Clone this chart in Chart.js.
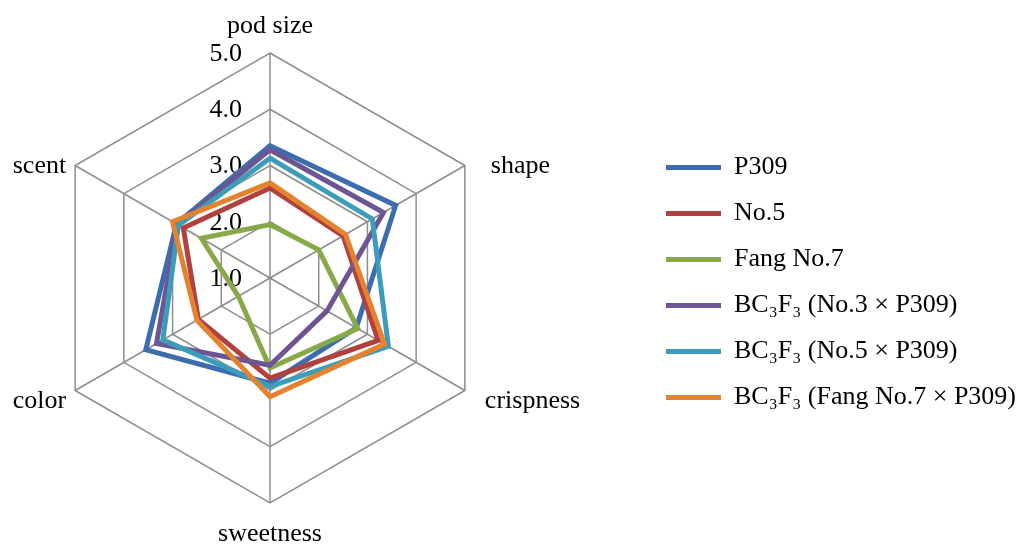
<!DOCTYPE html>
<html>
<head>
<meta charset="utf-8">
<script src="https://cdn.jsdelivr.net/npm/chart.js@4.4.0/dist/chart.umd.min.js"></script>
<style>
  html, body { margin: 0; padding: 0; background: #ffffff; }
  #wrap { width: 1026px; height: 546px; }
</style>
</head>
<body>
<div id="wrap"><canvas id="c" width="1026" height="546"></canvas></div>
<script>
// Sensory traits (radar axes, clockwise from top)
const traits = ['pod size', 'shape', 'crispness', 'sweetness', 'color', 'scent'];
const tickLabels = ['1.0', '2.0', '3.0', '4.0', '5.0'];

// Mean panel scores per line
const seriesNames = [
  'P309',
  'No.5',
  'Fang No.7',
  'BC\u2083F\u2083 (No.3 \u00d7 P309)',
  'BC\u2083F\u2083 (No.5 \u00d7 P309)',
  'BC\u2083F\u2083 (Fang No.7 \u00d7 P309)'
];
const p309       = [3.35, 3.58, 2.77, 2.87, 3.55, 2.92];
const no5        = [2.60, 2.50, 3.22, 2.78, 2.47, 2.78];
const fangNo7    = [1.95, 2.00, 2.80, 2.60, 1.65, 2.41];
const bcNo3xP309 = [3.28, 3.33, 2.17, 2.55, 3.33, 2.90];
const bcNo5xP309 = [3.13, 3.10, 3.43, 2.93, 3.20, 2.88];
const bcFangxP309 = [2.69, 2.55, 3.35, 3.11, 2.50, 3.00];
const seriesValues = [p309, no5, fangNo7, bcNo3xP309, bcNo5xP309, bcFangxP309];
const seriesColors = ['#3d6dae', '#b0413e', '#88a948', '#6d5493', '#3b9db9', '#e4832f'];

const FONT = "'Liberation Serif', 'Times New Roman', serif";
Chart.defaults.font.family = FONT;
Chart.defaults.color = '#000000';

// Category names around the web and value labels beside the vertical axis
const axisText = {
  id: 'axisText',
  beforeDatasetsDraw(chart) {
    const s = chart.scales.r;
    const ctx = chart.ctx;
    const R = s.drawingArea;
    ctx.save();
    ctx.fillStyle = '#000000';
    ctx.font = '26px ' + FONT;

    ctx.textAlign = 'right';
    ctx.textBaseline = 'middle';
    s.ticks.forEach((t) => {
      const y = s.yCenter - s.getDistanceFromCenterForValue(t.value);
      ctx.fillText(t.label, s.xCenter - 28, y + 1);
    });

    ctx.textBaseline = 'alphabetic';
    chart.data.labels.forEach((name, i) => {
      const p = s.getPointPosition(i, R);
      const dx = p.x - s.xCenter;
      const upper = p.y < s.yCenter;
      if (Math.abs(dx) < 1) {
        ctx.textAlign = 'center';
        ctx.fillText(name, p.x, upper ? p.y - 20 : p.y + 38);
      } else if (dx > 0) {
        ctx.textAlign = 'left';
        ctx.fillText(name, p.x + (upper ? 26 : 20), upper ? p.y + 7 : p.y + 17);
      } else {
        ctx.textAlign = 'right';
        ctx.fillText(name, p.x - 9, upper ? p.y + 7 : p.y + 17);
      }
    });
    ctx.restore();
  }
};

const datasets = seriesNames.map((name, i) => ({
  label: name,
  data: seriesValues[i],
  borderColor: seriesColors[i],
  backgroundColor: seriesColors[i],
  borderWidth: 5,
  borderCapStyle: 'round',
  borderJoinStyle: 'miter',
  fill: false,
  tension: 0,
  pointRadius: 0,
  pointHoverRadius: 0,
  order: seriesNames.length - 1 - i
}));

new Chart(document.getElementById('c'), {
  type: 'radar',
  data: { labels: traits, datasets },
  plugins: [axisText],
  options: {
    responsive: false,
    animation: false,
    layout: { padding: { left: 45, top: 53, bottom: 43, right: 0 } },
    elements: { line: { tension: 0 } },
    plugins: {
      tooltip: { enabled: false },
      legend: {
        position: 'right',
        align: 'center',
        // empty title row nudges the key a little lower
        title: { display: true, text: '', padding: 0, font: { size: 9, lineHeight: 1 } },
        labels: {
          usePointStyle: true,
          pointStyle: 'line',
          pointStyleWidth: 55,
          padding: 20,
          color: '#000000',
          font: { size: 26, family: FONT },
          sort: (a, b) => a.datasetIndex - b.datasetIndex
        }
      }
    },
    scales: {
      r: {
        min: 1,
        max: 5,
        ticks: {
          stepSize: 1,
          display: false,
          callback: (v, i) => tickLabels[i]
        },
        pointLabels: { display: false },
        grid: { color: '#8d8d8d', lineWidth: 1.5 },
        angleLines: { color: '#8d8d8d', lineWidth: 1.5 },
        // keep the web flush with the left side of its area
        afterFit(scale) {
          scale.xCenter = scale.left + scale.drawingArea;
        }
      }
    }
  }
});
</script>
</body>
</html>
